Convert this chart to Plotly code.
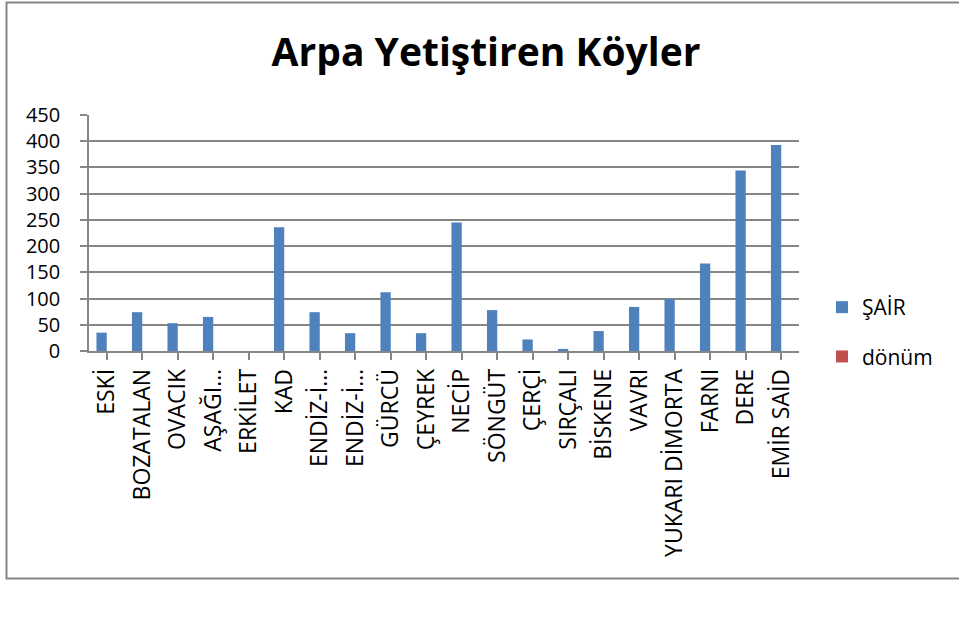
import plotly.graph_objects as go

categories = ["ESKİ", "BOZATALAN", "OVACIK", "AŞAĞI…", "ERKİLET", "KAD", "ENDİZ-İ…", "ENDİZ-İ…",
              "GÜRCÜ", "ÇEYREK", "NECİP", "SÖNGÜT", "ÇERÇİ", "SIRÇALI", "BİSKENE", "VAVRI",
              "YUKARI DİMORTA", "FARNI", "DERE", "EMİR SAİD"]
sair = [35, 74, 53, 65, 0, 236, 74, 34, 112, 34, 245, 78, 22, 4, 38, 84, 99, 167, 344, 393]
donum = [0] * len(categories)
y_ticks = [0, 50, 100, 150, 200, 250, 300, 350, 400, 450]

x_idx = list(range(len(categories)))

W, H = 959, 637
L, R, T, B = 89, 799, 115, 351

fig = go.Figure()
fig.add_trace(go.Bar(x=x_idx, y=sair, name="ŞAİR", marker=dict(color="#4F81BD", line=dict(width=0)),
                     legendgroup="a"))
fig.add_trace(go.Bar(x=x_idx, y=donum, name="dönüm", marker=dict(color="#C0504D", line=dict(width=0)),
                     legendgroup="b"))

def px2x(px):
    return (px - L) / (R - L)

def py2y(py):
    return (B - py) / (B - T)

fig.update_layout(
    width=W, height=H,
    margin=dict(l=L, r=W - R, t=T, b=H - B),
    paper_bgcolor="white", plot_bgcolor="white",
    barmode="group", bargap=0.42, bargroupgap=0,
    font=dict(family="Open Sans, Liberation Sans, sans-serif", color="black", size=21),
    title=dict(text="<b>Arpa Yetiştiren Köyler</b>", x=486 / W, xref="container", xanchor="center",
               y=1 - 52 / H, yref="container", yanchor="middle",
               font=dict(size=39, family="Open Sans, sans-serif", color="black")),
    legend=dict(x=px2x(822), y=py2y(287), xanchor="left", yanchor="top",
                font=dict(size=21), traceorder="grouped", tracegroupgap=19,
                bgcolor="rgba(0,0,0,0)"),
    showlegend=True,
)

fig.update_xaxes(
    tickmode="array", tickvals=x_idx, ticktext=categories, tickangle=-90,
    range=[-0.5, len(categories) - 0.5],
    showline=True, linecolor="#868686", linewidth=1.5,
    ticks="outside", tickson="boundaries", ticklen=7, tickcolor="#868686", tickwidth=1.5,
    showgrid=False, tickfont=dict(size=23), automargin=False,
)
fig.update_yaxes(
    range=[0, 450], tickmode="array", tickvals=y_ticks,
    showline=True, linecolor="#868686", linewidth=1.5,
    showgrid=True, gridcolor="#868686", gridwidth=1.5,
    ticks="outside", ticklen=7, tickcolor="#868686", tickwidth=1.5,
    tickfont=dict(size=20), ticklabelstandoff=16, automargin=False, zeroline=False,
)

fig.add_shape(type="rect", xref="paper", yref="paper",
              x0=px2x(6.5), x1=px2x(965), y0=py2y(2.5), y1=py2y(578.5),
              line=dict(color="#868686", width=2), fillcolor="rgba(0,0,0,0)", layer="below")

fig.write_html("out.html", config={"displayModeBar": False},
               post_script="document.body.style.margin='0';document.body.style.overflow='hidden';")
